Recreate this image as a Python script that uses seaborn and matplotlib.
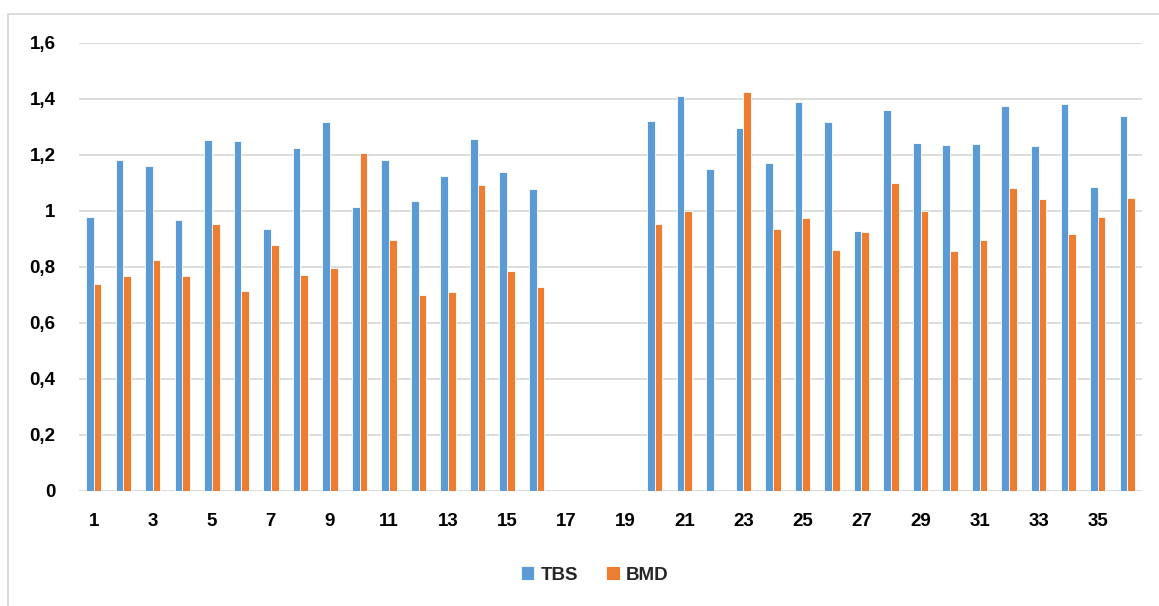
import numpy as np
import pandas as pd
import matplotlib
matplotlib.use("Agg")
import matplotlib.pyplot as plt
from matplotlib.patches import Rectangle
from matplotlib import font_manager
import seaborn as sns

# Patient index 1..36 and the two measured series (None = not measured)
categories = [str(i) for i in range(1, 37)]
tbs = [0.976, 1.180, 1.159, 0.966, 1.254, 1.250, 0.934, 1.223, 1.318, 1.012,
       1.182, 1.034, 1.124, 1.257, 1.138, 1.078, None, None, None, 1.319,
       1.411, 1.150, 1.295, 1.170, 1.387, 1.317, 0.928, 1.360, 1.242, 1.234,
       1.239, 1.374, 1.231, 1.382, 1.085, 1.337]
bmd = [0.737, 0.767, 0.824, 0.767, 0.951, 0.713, 0.878, 0.769, 0.795, 1.206,
       0.896, 0.698, 0.710, 1.091, 0.784, 0.726, None, None, None, 0.952,
       1.000, None, 1.423, 0.935, 0.973, 0.860, 0.923, 1.098, 1.000, 0.855,
       0.895, 1.080, 1.042, 0.917, 0.977, 1.045]
series_names = ["TBS", "BMD"]
colors = ["#5B9BD5", "#ED7D31"]
y_ticks = [0, 0.2, 0.4, 0.6, 0.8, 1.0, 1.2, 1.4, 1.6]
y_labels = ["0", "0,2", "0,4", "0,6", "0,8", "1", "1,2", "1,4", "1,6"]

rows = []
for name, vals in zip(series_names, [tbs, bmd]):
    for c, v in zip(categories, vals):
        if v is not None:
            rows.append({"cat": c, "series": name, "value": v})
df = pd.DataFrame(rows)

sns.set_style("white")
plt.rcParams["font.family"] = ["Liberation Sans", "DejaVu Sans"]
plt.rcParams["font.weight"] = "bold"
label_fp = font_manager.FontProperties(family=["Liberation Sans", "DejaVu Sans"],
                                       weight="bold", size=13.5)

W, H = 1159, 606
fig = plt.figure(figsize=(W / 100, H / 100), dpi=100)
ax = fig.add_axes([79 / W, 1 - 490.7 / H, (1142 - 79) / W, (490.7 - 42.7) / H])

sns.barplot(data=df, x="cat", y="value", hue="series", order=categories,
            hue_order=series_names, palette=colors, saturation=1, width=0.52,
            errorbar=None, edgecolor="white", linewidth=0.6, ax=ax)

ax.set_ylim(0, 1.6)
ax.set_xlim(-0.5, len(categories) - 0.5)
odd_pos = list(range(0, len(categories), 2))
ax.set_yticks(y_ticks, y_labels, fontproperties=label_fp)
ax.set_xticks(odd_pos, [categories[i] for i in odd_pos], fontproperties=label_fp)
ax.tick_params(axis="both", length=0, colors="black")
ax.tick_params(axis="y", pad=17)
ax.tick_params(axis="x", pad=16)

ax.set_xlabel("")
ax.set_ylabel("")
ax.grid(axis="y", color="#D9D9D9", linewidth=1.3)
ax.set_axisbelow(True)
for s in ax.spines.values():
    s.set_visible(False)

leg = ax.legend(loc="center", bbox_to_anchor=(595 / W, 1 - 575 / H),
                bbox_transform=fig.transFigure, ncol=2, frameon=False,
                handlelength=0.7, handleheight=0.7, handletextpad=0.35,
                columnspacing=1.5, prop=label_fp)

# Outer chart frame
fig.patches.append(Rectangle((8 / W, -0.05), 1.1, 1 - 14 / H + 0.05,
                             transform=fig.transFigure, fill=False,
                             edgecolor="#D9D9D9", linewidth=1.3))

fig.savefig("out.png", dpi=100)
